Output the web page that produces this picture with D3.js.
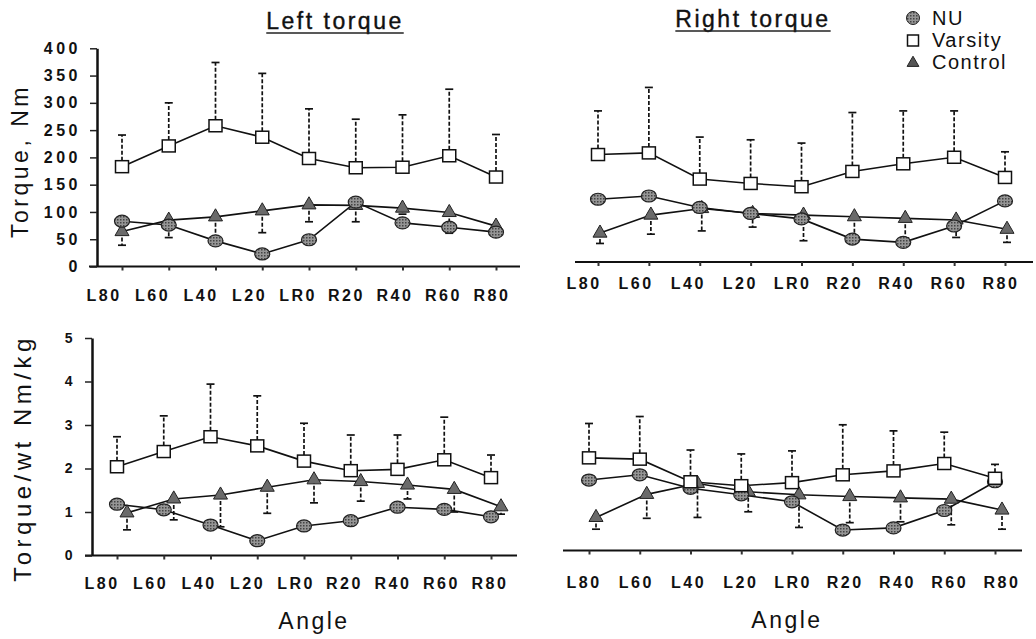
<!DOCTYPE html>
<html>
<head>
<meta charset="utf-8">
<script src="https://cdn.jsdelivr.net/npm/d3@7"></script>
<style>
body { margin: 0; background: #fff; }
text { font-family: "Liberation Sans", Arial, Helvetica, sans-serif; fill: #111; }
</style>
</head>
<body>
<svg id="chart" width="1036" height="639"></svg>
<script>
var angles = ["L80", "L60", "L40", "L20", "LR0", "R20", "R40", "R60", "R80"];
var torqueTicks = [0, 50, 100, 150, 200, 250, 300, 350, 400];
var ratioTicks = [0, 1, 2, 3, 4, 5];

// Left torque (Nm)
var leftNU = [83, 76, 47, 23, 49, 118, 80, 72, 63];
var leftVarsity = [183, 221, 258, 237, 198, 181, 182, 203, 164];
var leftVarsityTop = [241, 300, 374, 354, 289, 270, 278, 325, 242];
var leftControl = [64, 85, 91, 102, 113, 112, 107, 99, 74];
var leftControlLow = [39, 53, 52, 62, 82, 82, 96, 61, 66];

// Right torque (Nm)
var rightNU = [115, 121, 100, 89, 79, 42, 36, 66, 112];
var rightVarsity = [197, 200, 152, 144, 138, 166, 180, 192, 155];
var rightVarsityTop = [277, 320, 229, 224, 218, 274, 277, 277, 202];
var rightControl = [53, 86, 98, 89, 86, 83, 80, 77, 60];
var rightControlLow = [34, 51, 57, 64, 39, 48, 44, 45, 36];

// Left torque / body weight (Nm/kg)
var leftWtNU = [1.18, 1.05, 0.70, 0.34, 0.68, 0.80, 1.11, 1.06, 0.89];
var leftWtVarsity = [2.04, 2.39, 2.73, 2.52, 2.17, 1.95, 1.98, 2.20, 1.79];
var leftWtVarsityTop = [2.73, 3.21, 3.94, 3.67, 3.04, 2.77, 2.77, 3.18, 2.31];
var leftWtControl = [0.98, 1.30, 1.39, 1.57, 1.74, 1.70, 1.62, 1.52, 1.12];
var leftWtControlLow = [0.59, 0.82, 0.66, 0.97, 1.21, 1.25, 1.30, 1.00, 0.95];

// Right torque / body weight (Nm/kg)
var rightWtNU = [1.62, 1.74, 1.43, 1.28, 1.12, 0.47, 0.52, 0.92, 1.58];
var rightWtVarsity = [2.13, 2.10, 1.58, 1.49, 1.56, 1.74, 1.83, 2.00, 1.66];
var rightWtVarsityTop = [2.92, 3.08, 2.31, 2.22, 2.29, 2.89, 2.75, 2.72, 1.98];
var rightWtControl = [0.76, 1.29, 1.54, 1.35, 1.28, 1.24, 1.21, 1.18, 0.93];
var rightWtControlLow = [0.49, 0.74, 0.76, 0.89, 0.53, 0.64, 0.66, 0.59, 0.49];

var svg = d3.select("#chart");

// hatched grey fill for NU circles
var pat = svg.append("defs").append("pattern")
    .attr("id", "stipple").attr("width", 3).attr("height", 3)
    .attr("patternUnits", "userSpaceOnUse");
pat.append("rect").attr("width", 3).attr("height", 3).attr("fill", "#959595");
pat.append("rect").attr("width", 1.5).attr("height", 1.5).attr("fill", "#444");

var panels = [
    {x: [122, 496], lab: [104, 492], y: [266.5, 48.3], dom: [0, 400], ticks: torqueTicks, yAxisX: 97, tickFont: 16,
     base: [89, 520], labY: 301, shift: 0, nu: leftNU, va: leftVarsity, vaTop: leftVarsityTop, co: leftControl, coLow: leftControlLow},
    {x: [598, 1005], lab: [584, 1001], y: [262, 43.8], dom: [0, 400], ticks: null,
     base: [575, 1033], labY: 289, shift: 2, nu: rightNU, va: rightVarsity, vaTop: rightVarsityTop, co: rightControl, coLow: rightControlLow},
    {x: [117, 491], lab: [102, 490], y: [555.5, 338], dom: [0, 5], ticks: ratioTicks, yAxisX: 92, tickFont: 14,
     base: [85, 517], labY: 589, shift: 10, nu: leftWtNU, va: leftWtVarsity, vaTop: leftWtVarsityTop, co: leftWtControl, coLow: leftWtControlLow},
    {x: [589, 995], lab: [584, 1002], y: [550.5, 333], dom: [0, 5], ticks: null,
     base: [563, 1022], labY: 588, shift: 7, nu: rightWtNU, va: rightWtVarsity, vaTop: rightWtVarsityTop, co: rightWtControl, coLow: rightWtControlLow}
];

var triangle = d3.symbol().type(d3.symbolTriangle).size(85);

panels.forEach(function(p) {
    var x = d3.scalePoint().domain(angles).range(p.x);
    var xl = d3.scalePoint().domain(angles).range(p.lab);
    var y = d3.scaleLinear().domain(p.dom).range(p.y);
    var g = svg.append("g");

    // x axis: baseline + small ticks + labels
    g.append("line")
        .attr("x1", p.base[0]).attr("x2", p.base[1])
        .attr("y1", y(0)).attr("y2", y(0))
        .attr("stroke", "#111").attr("stroke-width", 2);

    var xa = g.append("g")
        .attr("transform", "translate(0," + y(0) + ")")
        .call(d3.axisBottom(x).tickSize(4).tickFormat(""));
    xa.select(".domain").remove();
    xa.selectAll("line").attr("stroke", "#333").attr("stroke-width", 2);

    g.selectAll(".xlab").data(angles).enter().append("text")
        .attr("x", function(d) { return xl(d); })
        .attr("y", p.labY)
        .attr("text-anchor", "middle")
        .style("font-size", "16px").style("font-weight", "bold").style("letter-spacing", "2.5px")
        .text(function(d) { return d; });

    if (p.ticks) {
        var ya = g.append("g")
            .attr("transform", "translate(" + p.yAxisX + ",0)")
            .call(d3.axisLeft(y).tickValues(p.ticks).tickFormat(d3.format("d"))
                .tickSize(7).tickPadding(9).tickSizeOuter(0));
        ya.attr("font-size", null).attr("font-family", null);
        ya.select(".domain").attr("stroke", "#111").attr("stroke-width", 2.5);
        ya.selectAll("line").attr("stroke", "#222").attr("stroke-width", 1.5);
        ya.selectAll("text")
            .style("font-size", p.tickFont + "px")
            .style("font-weight", "bold").style("letter-spacing", "3.5px")
            .attr("fill", "#111");
    }

    var line = d3.line()
        .x(function(d, i) { return x(angles[i]); })
        .y(function(d) { return y(d); });
    var lineC = d3.line()
        .x(function(d, i) { return x(angles[i]) + p.shift; })
        .y(function(d) { return y(d); });

    [p.va, p.nu].forEach(function(s) {
        g.append("path").datum(s).attr("d", line)
            .attr("fill", "none").attr("stroke", "#111").attr("stroke-width", 1.6);
    });
    g.append("path").datum(p.co).attr("d", lineC)
        .attr("fill", "none").attr("stroke", "#111").attr("stroke-width", 1.6);

    // error bars: varsity upward, control downward
    function bars(vals, ends, dx) {
        var eb = g.append("g").selectAll("g").data(vals).enter().append("g");
        eb.append("line")
            .attr("x1", function(d, i) { return x(angles[i]) + dx; })
            .attr("x2", function(d, i) { return x(angles[i]) + dx; })
            .attr("y1", function(d) { return y(d); })
            .attr("y2", function(d, i) { return y(ends[i]); })
            .attr("stroke", "#111").attr("stroke-width", 1.7).attr("stroke-dasharray", "4,2");
        eb.append("line")
            .attr("x1", function(d, i) { return x(angles[i]) + dx - 4; })
            .attr("x2", function(d, i) { return x(angles[i]) + dx + 4; })
            .attr("y1", function(d, i) { return y(ends[i]); })
            .attr("y2", function(d, i) { return y(ends[i]); })
            .attr("stroke", "#111").attr("stroke-width", 1.7);
    }
    bars(p.va, p.vaTop, 0);
    bars(p.co, p.coLow, p.shift);

    g.selectAll(".tri").data(p.co).enter().append("path")
        .attr("d", triangle)
        .attr("transform", function(d, i) { return "translate(" + (x(angles[i]) + p.shift) + "," + y(d) + ")"; })
        .attr("fill", "#6a6a6a").attr("stroke", "#222").attr("stroke-width", 1);

    g.selectAll(".nu").data(p.nu).enter().append("ellipse")
        .attr("cx", function(d, i) { return x(angles[i]); })
        .attr("cy", function(d) { return y(d); })
        .attr("rx", 7.5).attr("ry", 6)
        .attr("fill", "url(#stipple)").attr("stroke", "#222").attr("stroke-width", 1.2);

    g.selectAll(".va").data(p.va).enter().append("rect")
        .attr("x", function(d, i) { return x(angles[i]) - 6.5; })
        .attr("y", function(d) { return y(d) - 6; })
        .attr("width", 13).attr("height", 12)
        .attr("fill", "#fff").attr("stroke", "#111").attr("stroke-width", 1.5);
});

// titles, underlined to the width of the text
function title(txt, cx, yb) {
    var t = svg.append("text").attr("x", cx).attr("y", yb).attr("text-anchor", "middle")
        .style("font-size", "23px").style("letter-spacing", "2.5px")
        .style("stroke", "#111").style("stroke-width", 0.4)
        .text(txt);
    var w = t.node().getBBox().width;
    svg.append("line").attr("x1", cx - w / 2).attr("x2", cx + w / 2)
        .attr("y1", yb + 4).attr("y2", yb + 4).attr("stroke", "#222").attr("stroke-width", 1.5);
}
title("Left torque", 335, 29);
title("Right torque", 753, 27);

svg.append("text").attr("transform", "translate(28,161) rotate(-90)")
    .attr("text-anchor", "middle").style("font-size", "23px").style("letter-spacing", "3.5px")
    .text("Torque,  Nm");
svg.append("text").attr("transform", "translate(31,458) rotate(-90)")
    .attr("text-anchor", "middle").style("font-size", "24px").style("letter-spacing", "4.5px")
    .text("Torque/wt  Nm/kg");

svg.append("text").attr("x", 314).attr("y", 629).attr("text-anchor", "middle")
    .style("font-size", "23px").style("letter-spacing", "2.5px").text("Angle");
svg.append("text").attr("x", 787).attr("y", 628).attr("text-anchor", "middle")
    .style("font-size", "23px").style("letter-spacing", "2.5px").text("Angle");

// legend
var legend = svg.append("g").attr("transform", "translate(913,0)");
legend.append("circle").attr("cx", 0).attr("cy", 18).attr("r", 6.5)
    .attr("fill", "url(#stipple)").attr("stroke", "#222");
legend.append("rect").attr("x", -5.5).attr("y", 35).attr("width", 11).attr("height", 11)
    .attr("fill", "#fff").attr("stroke", "#111").attr("stroke-width", 1.5);
legend.append("path").attr("d", d3.symbol().type(d3.symbolTriangle).size(60))
    .attr("transform", "translate(0,63)").attr("fill", "#555").attr("stroke", "#222");
legend.selectAll("text").data(["NU", "Varsity", "Control"]).enter().append("text")
    .attr("x", 19).attr("y", function(d, i) { return 25 + i * 22; })
    .style("font-size", "20px").style("letter-spacing", "1.5px")
    .text(function(d) { return d; });
</script>
</body>
</html>
